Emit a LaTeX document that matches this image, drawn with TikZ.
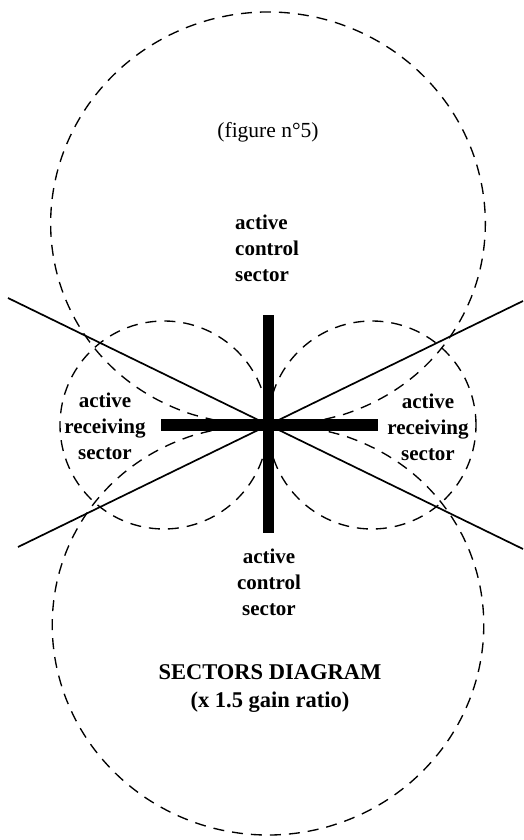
\documentclass[tikz,border=0pt]{standalone}
\usepackage{fontspec}
\setmainfont{Liberation Serif}
\begin{document}
\begin{tikzpicture}[
        x=1pt, y=1pt,
        lobeline/.style={dash pattern=on 11pt off 8pt, line width=1.35pt},
        axisline/.style={line width=1.7pt},
        sectortext/.style={font=\fontsize{21}{26}\selectfont\bfseries, inner sep=0pt},
        titletext/.style={font=\fontsize{22.5}{28}\selectfont\bfseries, inner sep=0pt, align=center}
    ]
        \useasboundingbox (-268,-415) rectangle (256,425);
        \coordinate (O) at (0,0);
        \coordinate (ul) at (-260,127);
        \coordinate (lr) at (255,-124);
        \coordinate (ll) at (-250,-122);
        \coordinate (ur) at (255,124);

        \draw[lobeline] (O) -- plot[domain=0.5:179.5, samples=120, smooth] (\x:{413*sin(\x)^0.86}) -- cycle;
        \draw[lobeline] (O) -- plot[domain=180.5:359.5, samples=120, smooth] (\x:{410*abs(sin(\x))^0.86}) -- cycle;
        \draw[lobeline] (104,0) circle[radius=104];
        \draw[lobeline] (-104,0) circle[radius=104];

        \draw[axisline] (ul) -- (lr);
        \draw[axisline] (ll) -- (ur);

        \fill (-5.5,-108) rectangle (5.5,110);
        \fill (-107,-6) rectangle (110,6);

        \node[font=\fontsize{21.5}{26}\selectfont, inner sep=0pt] (fig) at (0,293) {(figure n°5)};
        \node[sectortext, align=left, anchor=west] (topctl) at (-33,177) {active\\control\\sector};
        \node[sectortext, align=center] (botctl) at (1,-157) {active\\control\\sector};
        \node[sectortext, align=center] (leftrx) at (-163,-1) {active\\receiving\\sector};
        \node[sectortext, align=center] (rightrx) at (160,-2) {active\\receiving\\sector};
        \node[titletext] (title) at (2,-264) {SECTORS DIAGRAM\\(x 1.5 gain ratio)};
    \end{tikzpicture}
\end{document}
